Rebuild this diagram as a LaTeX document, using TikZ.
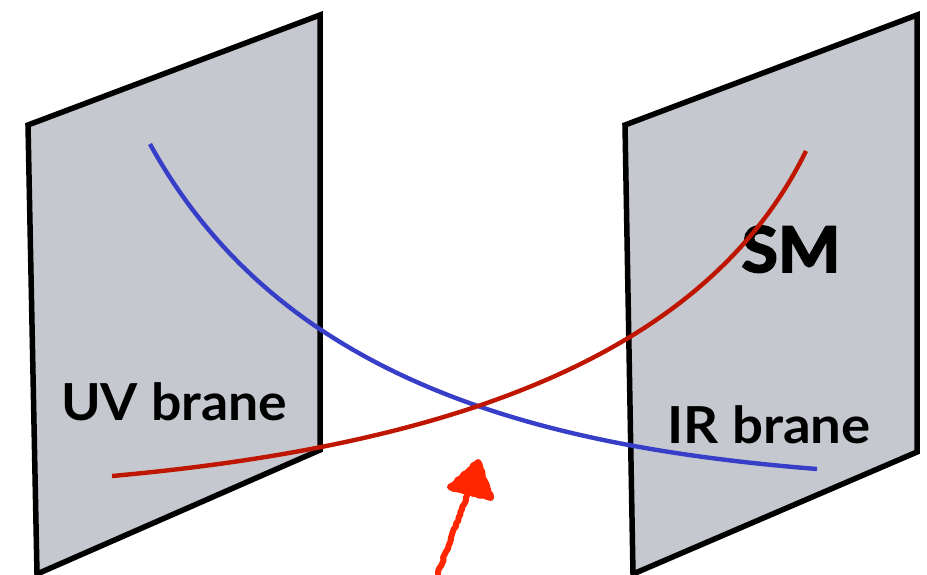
\documentclass[tikz,border=0pt]{standalone}
\usepackage{fontspec}
\setmainfont{Lato}
\newfontfamily\smfont{Lato}[BoldFeatures={FakeBold=3}]
\usetikzlibrary{decorations.pathmorphing}
\definecolor{branegray}{RGB}{197,200,207}
\definecolor{fieldblue}{RGB}{55,62,200}
\definecolor{fieldred}{RGB}{190,22,0}
\definecolor{arrowred}{RGB}{255,38,0}
\tikzset{
  brane/.style={fill=branegray, draw=black, line width=5.5pt, line join=miter},
  field/.style={line width=4.4pt},
  label/.style={anchor=base, inner sep=0pt, font=\bfseries\fontsize{51}{54}\selectfont},
  scrawl/.style={arrowred, line width=6pt, line cap=round, line join=round,
    decorate, decoration={random steps, segment length=3pt, amplitude=0.9pt}}
}
\begin{document}
\begin{tikzpicture}[x=1pt, y=-1pt]
\useasboundingbox (0,0) rectangle (927,574);
% branes
\draw[brane] (28,125) -- (320,15) -- (320,450) -- (37,574) -- cycle;
\draw[brane] (625,125) -- (917,15) -- (917,452) -- (633,574) -- cycle;
% labels
\node[label] (uv) at (174,420) {\scalebox{1.05}[1]{UV brane}};
\node[label] (ir) at (769,443) {\scalebox{1.07}[1]{IR brane}};
\node[label, font=\smfont\bfseries\fontsize{63}{66}\selectfont] (sm) at (791,272) {\scalebox{1.05}[1]{SM}};
% fields
\coordinate (b0) at (150,144);
\coordinate (b1) at (817,469);
\coordinate (r0) at (112,476);
\coordinate (r1) at (806,151);
\draw[field, fieldblue] (b0) .. controls (280,380) and (537,446.6) .. (b1);
\draw[field, fieldred] (r0) .. controls (462,444.5) and (708,351) .. (r1);
% hand drawn arrow
\coordinate (tail) at (438,574);
\coordinate (head) at (467,496);
\draw[scrawl] (tail) .. controls (450,540) and (460,515) .. (head);
\filldraw[scrawl, fill=arrowred] (478,462) -- (450,487) -- (491,498) -- cycle;
\end{tikzpicture}
\end{document}
